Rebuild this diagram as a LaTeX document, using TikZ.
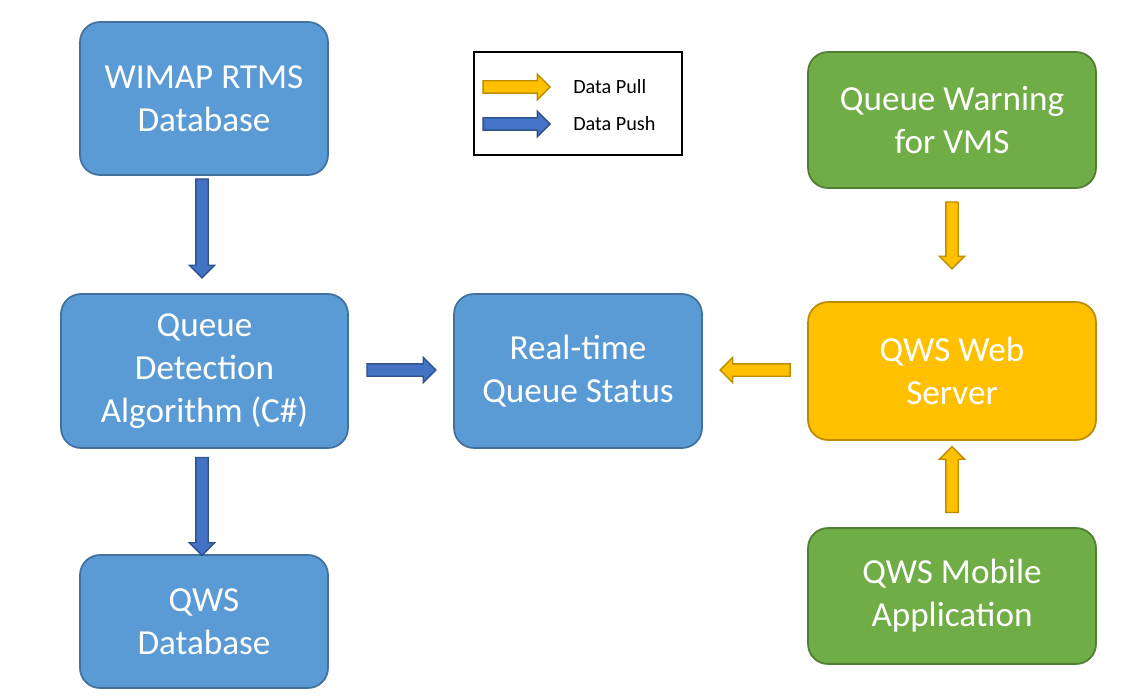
\documentclass[tikz,border=0pt]{standalone}
\usepackage{fontspec}
\setmainfont{Carlito}
\usepackage{tikz}
\usetikzlibrary{calc}
\usetikzlibrary{shapes.arrows}
\definecolor{boxblue}{HTML}{5B9BD5}
\definecolor{boxblueline}{HTML}{41719C}
\definecolor{pushblue}{HTML}{4472C4}
\definecolor{pushline}{HTML}{2F528F}
\definecolor{pullorange}{HTML}{FFC000}
\definecolor{pullline}{HTML}{BC8C00}
\definecolor{boxgreen}{HTML}{70AD47}
\definecolor{boxgreenline}{HTML}{507E32}

\begin{document}
\begin{tikzpicture}[x=0.02cm, y=-0.02cm,
    box/.style={rounded corners=0.4cm, line width=1pt, text=white, align=center,
      font=\fontsize{20}{24.5}\selectfont, inner sep=0pt},
    bluebox/.style={box, fill=boxblue, draw=boxblueline},
    greenbox/.style={box, fill=boxgreen, draw=boxgreenline},
    orangebox/.style={box, fill=pullorange, draw=pullline},
    blockarrow/.style={single arrow, inner sep=0.11cm,
      single arrow head extend=0.13cm, single arrow head indent=0pt, line width=0.8pt},
    push/.style={blockarrow, fill=pushblue, draw=pushline},
    pull/.style={blockarrow, fill=pullorange, draw=pullline},
    keytext/.style={anchor=west, font=\fontsize{11.5}{14}\selectfont}]
      \useasboundingbox (0, 0) rectangle (1125, 699);
      \node[bluebox, minimum width=4.96cm, minimum height=3.06cm] (wimap) at (204, 98.5) {WIMAP RTMS\\Database};
      \node[bluebox, minimum width=5.74cm, minimum height=3.08cm] (qda) at (204.5, 371) {Queue\\Detection\\Algorithm (C\#)};
      \node[bluebox, minimum width=4.96cm, minimum height=2.66cm] (qwsdb) at (204, 621.5) {QWS\\Database};
      \node[bluebox, minimum width=4.96cm, minimum height=3.08cm] (status) at (578, 371) {Real-time\\Queue Status};
      \node[greenbox, minimum width=5.76cm, minimum height=2.72cm] (warning) at (952, 120) {Queue Warning\\for VMS};
      \node[orangebox, minimum width=5.76cm, minimum height=2.76cm] (web) at (952, 371) {QWS Web\\Server};
      \node[greenbox, minimum width=5.76cm, minimum height=2.72cm] (mobile) at (952, 596) {QWS Mobile\\Application};
      \node[draw, line width=1.2pt, minimum width=4.16cm, minimum height=2.06cm] (legend) at (578, 103.5) {};
      \node[pull, minimum height=1.34cm] (pullkey) at ($(legend.west)+(40.5, -16.5)$) {};
      \node[push, minimum height=1.34cm] (pushkey) at ($(legend.west)+(40.5, 20.5)$) {};
      \node[keytext] (pulltext) at ($(pullkey.east)+(16, 0)$) {Data Pull};
      \node[keytext] (pushtext) at ($(pushkey.east)+(16, 0)$) {Data Push};
      \node[push, shape border rotate=270, minimum height=1.98cm] (a1) at ($(wimap.south)+(-2, 49.5)$) {};
      \node[push, shape border rotate=270, minimum height=1.96cm] (a2) at ($(qda.south)+(-2.5, 54.5)$) {};
      \node[push, minimum height=1.38cm] (a3) at ($(qda.east)+(49.5, -1)$) {};
      \node[pull, shape border rotate=180, minimum height=1.4cm] (a4) at ($(web.west)+(-49, -1)$) {};
      \node[pull, shape border rotate=270, minimum height=1.34cm] (a5) at ($(warning.south)+(0, 43.5)$) {};
      \node[pull, shape border rotate=90, minimum height=1.32cm] (a6) at ($(mobile.north)+(0, -44.5)$) {};
    \end{tikzpicture}
\end{document}
